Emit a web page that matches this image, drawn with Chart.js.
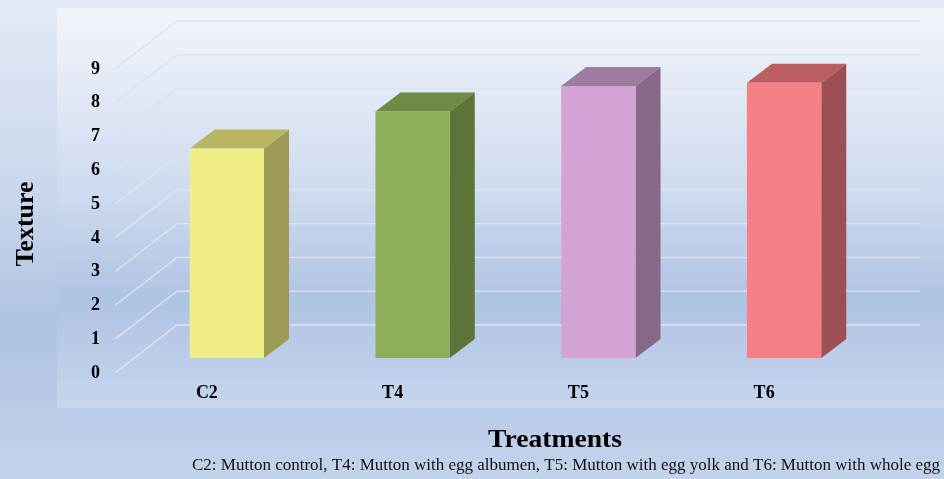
<!DOCTYPE html>
<html>
<head>
<meta charset="utf-8">
<title>Texture by treatment</title>
<script src="https://cdn.jsdelivr.net/npm/chart.js@4.4.1/dist/chart.umd.min.js"></script>
<style>
  html, body { margin: 0; padding: 0; background: #c8d5ec; }
  #wrap { width: 944px; height: 479px; }
</style>
</head>
<body>
<div id="wrap"><canvas id="textureChart" width="944" height="479"></canvas></div>
<script>
const treatments = ['C2', 'T4', 'T5', 'T6'];
const textureScores = [6.2, 7.3, 8.05, 8.15];
const frontColors = ['#efed86', '#8fae5b', '#d4a2d4', '#f78087'];
const sideColors = ['#9c9a55', '#5e7439', '#876887', '#9c4f54'];
const topColors = ['#b8b663', '#6e8a43', '#a07ba0', '#bb5f63'];
const yAxisTitle = 'Texture';
const xAxisTitle = 'Treatments';
const footnote = 'C2: Mutton control, T4: Mutton with egg albumen, T5: Mutton with egg yolk and T6: Mutton with whole egg';

// perspective offsets: wall depth, bar inset from the floor edge, bar depth
const WALL_DX = 63, WALL_DY = -48;
const BAR_DX = 20, BAR_DY = -15;
const DEPTH_DX = 25, DEPTH_DY = -19;
const GRID_RIGHT = 920;

const serif = "'Liberation Serif', 'Times New Roman', serif";

function poly(ctx, pts, fill) {
  ctx.beginPath();
  ctx.moveTo(pts[0][0], pts[0][1]);
  for (let i = 1; i < pts.length; i++) ctx.lineTo(pts[i][0], pts[i][1]);
  ctx.closePath();
  ctx.fillStyle = fill;
  ctx.fill();
}

function fitText(ctx, text, x, y, width) {
  const w = ctx.measureText(text).width;
  ctx.save();
  ctx.translate(x, y);
  ctx.scale(width / w, 1);
  ctx.fillText(text, 0, 0);
  ctx.restore();
}

const depthPlugin = {
  id: 'depth3d',
  beforeDraw(chart) {
    const { ctx, width, height } = chart;
    ctx.save();
    const bg = ctx.createLinearGradient(0, 0, 0, height);
    bg.addColorStop(0, '#e4eaf5');
    bg.addColorStop(0.45, '#c6d4ea');
    bg.addColorStop(0.68, '#aec2e2');
    bg.addColorStop(1, '#c4d3ec');
    ctx.fillStyle = bg;
    ctx.fillRect(0, 0, width, height);

    // plot panel
    const panel = ctx.createLinearGradient(0, 8, 0, 408);
    panel.addColorStop(0, '#f3f5fb');
    panel.addColorStop(0.45, '#cfdbef');
    panel.addColorStop(0.73, '#afc3e3');
    panel.addColorStop(1, '#c7d5ee');
    ctx.fillStyle = panel;
    ctx.fillRect(57, 8, width - 57, 400);
    ctx.restore();
  },
  beforeDatasetsDraw(chart) {
    const { ctx, chartArea, scales: { y } } = chart;
    ctx.save();
    ctx.strokeStyle = '#dde3ed';
    ctx.lineWidth = 1.3;
    y.ticks.forEach(t => {
      const py = y.getPixelForValue(t.value);
      ctx.beginPath();
      ctx.moveTo(chartArea.left + 1, py);
      ctx.lineTo(chartArea.left + WALL_DX, py + WALL_DY);
      ctx.lineTo(GRID_RIGHT, py + WALL_DY);
      ctx.stroke();
    });
    ctx.restore();
  },
  afterDatasetsDraw(chart) {
    const { ctx } = chart;
    const meta = chart.getDatasetMeta(0);
    ctx.save();
    meta.data.forEach((bar, i) => {
      const { x, y, base, width } = bar.getProps(['x', 'y', 'base', 'width'], true);
      const l = x - width / 2 + BAR_DX;
      const r = x + width / 2 + BAR_DX;
      const t = y + BAR_DY;
      const b = base + BAR_DY;
      poly(ctx, [[r, t], [r + DEPTH_DX, t + DEPTH_DY], [r + DEPTH_DX, b + DEPTH_DY], [r, b]], sideColors[i]);
      poly(ctx, [[l, t], [l + DEPTH_DX, t + DEPTH_DY], [r + DEPTH_DX, t + DEPTH_DY], [r, t]], topColors[i]);
      poly(ctx, [[l, t], [r, t], [r, b], [l, b]], frontColors[i]);
    });
    ctx.restore();
  },
  afterDraw(chart) {
    const { ctx } = chart;
    ctx.save();
    ctx.fillStyle = '#000';
    ctx.textBaseline = 'middle';

    ctx.font = `bold 26px ${serif}`;
    ctx.save();
    ctx.translate(26, 224);
    ctx.rotate(-Math.PI / 2);
    ctx.textAlign = 'center';
    ctx.fillText(yAxisTitle, 0, 0);
    ctx.restore();

    ctx.textAlign = 'left';
    fitText(ctx, xAxisTitle, 488, 440, 134);

    ctx.font = `16px ${serif}`;
    ctx.fillStyle = '#111';
    fitText(ctx, footnote, 192, 466, 748);
    ctx.restore();
  }
};

new Chart(document.getElementById('textureChart'), {
  type: 'bar',
  data: {
    labels: treatments,
    datasets: [{
      label: yAxisTitle,
      data: textureScores,
      backgroundColor: 'rgba(0,0,0,0)',
      borderWidth: 0,
      categoryPercentage: 1,
      barPercentage: 0.4
    }]
  },
  options: {
    responsive: false,
    animation: false,
    layout: { padding: { top: 69, right: 87, left: 0, bottom: 0 } },
    plugins: {
      legend: { display: false },
      tooltip: { enabled: false }
    },
    scales: {
      x: {
        grid: { display: false, drawTicks: false },
        border: { display: false },
        ticks: {
          color: '#000',
          padding: 10,
          font: { family: serif, size: 18, weight: 'bold' }
        },
        afterFit(s) { s.height = 106; }
      },
      y: {
        min: 0,
        max: 9,
        grid: { display: false, drawTicks: false },
        border: { display: false },
        ticks: {
          stepSize: 1,
          color: '#000',
          padding: 14,
          font: { family: serif, size: 18, weight: 'bold' }
        },
        afterFit(s) { s.width = 114; }
      }
    }
  },
  plugins: [depthPlugin]
});
</script>
</body>
</html>
